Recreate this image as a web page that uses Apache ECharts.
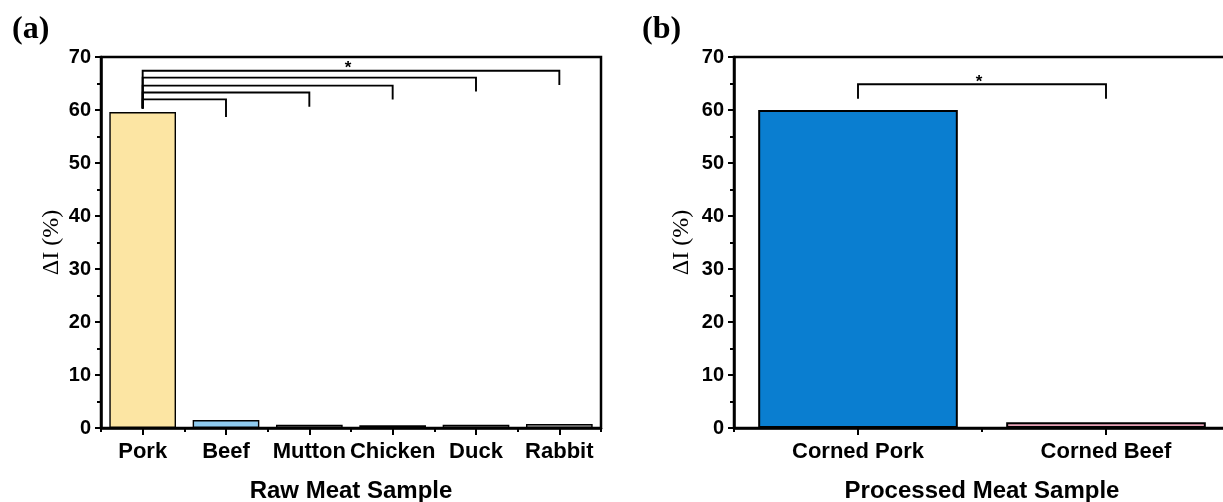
<!DOCTYPE html>
<html>
<head>
<meta charset="utf-8">
<title>ΔI of raw and processed meat samples</title>
<script src="https://cdn.jsdelivr.net/npm/echarts@6.0.0/dist/echarts.min.js"></script>
<style>
  html, body { margin: 0; padding: 0; background: #fff; }
  #chart { width: 1223px; height: 502px; }
</style>
</head>
<body>
<div id="chart"></div>
<script>
// ---- data ----
const rawCategories = ['Pork', 'Beef', 'Mutton', 'Chicken', 'Duck', 'Rabbit'];
const rawValues = [59.6, 1.5, 0.6, 0.5, 0.6, 0.75];
const rawColors = ['#FCE5A3', '#8ECBF0', '#E6E6E6', '#3A3A3A', '#ECECEC', '#C6C6C6'];

const processedCategories = ['Corned Pork', 'Corned Beef'];
const processedValues = [60.0, 1.1];
const processedColors = ['#0A7ED0', '#E9A3B8'];

const yTicks = [0, 70, 10]; // min, max, interval

// significance brackets: [fromIndex, toIndex, level, fromEnd, toEnd, mark]
const rawBrackets = [
  [0, 1, 62.0, 60.3, 58.7, ''],
  [0, 2, 63.3, 60.3, 60.6, ''],
  [0, 3, 64.6, 60.3, 62.0, ''],
  [0, 4, 66.1, 60.3, 63.5, ''],
  [0, 5, 67.4, 60.3, 64.7, '*']
];
const processedBrackets = [
  [0, 1, 64.85, 62.1, 62.1, '*']
];

// ---- styles ----
const BLACK = '#000';
const SANS = 'Liberation Sans, Arial, sans-serif';
const SERIF = 'Liberation Serif, Times New Roman, serif';
const sansBold = { fontFamily: SANS, fontWeight: 'bold', color: BLACK };

function bracketRenderer(list) {
  return function (params, api) {
    const b = list[params.dataIndex];
    const p1 = api.coord([b[0], b[3]]);
    const p2 = api.coord([b[0], b[2]]);
    const p3 = api.coord([b[1], b[2]]);
    const p4 = api.coord([b[1], b[4]]);
    const children = [{
      type: 'polyline',
      shape: { points: [p1, p2, p3, p4] },
      style: { stroke: BLACK, lineWidth: 1.9, fill: null }
    }];
    if (b[5]) {
      children.push({
        type: 'text',
        style: {
          text: b[5],
          x: (p2[0] + p3[0]) / 2 - 3,
          y: p2[1] - 2,
          align: 'center',
          verticalAlign: 'middle',
          fontFamily: SANS,
          fontWeight: 'bold',
          fontSize: 17,
          fill: BLACK
        }
      });
    }
    return { type: 'group', children: children };
  };
}

function categoryAxis(gridIndex, data, name) {
  return {
    type: 'category', gridIndex: gridIndex, data: data, position: 'bottom',
    axisLine: { show: true, lineStyle: { color: BLACK, width: 2.5 } },
    axisTick: { show: true, alignWithLabel: true, inside: false, length: 7, lineStyle: { color: BLACK, width: 2 } },
    axisLabel: Object.assign({ fontSize: 22, margin: 13, interval: 0 }, sansBold),
    splitLine: { show: false },
    name: name, nameLocation: 'middle', nameGap: 51,
    nameTextStyle: Object.assign({ fontSize: 24 }, sansBold)
  };
}

// boundary ticks between categories
function boundaryAxis(gridIndex, count) {
  return {
    type: 'value', gridIndex: gridIndex, position: 'bottom',
    min: 0, max: count, interval: 1,
    axisLine: { show: false },
    axisTick: { show: true, inside: false, length: 4, lineStyle: { color: BLACK, width: 2 } },
    axisLabel: { show: false },
    splitLine: { show: false }
  };
}

function valueAxis(gridIndex, nameGap) {
  return {
    type: 'value', gridIndex: gridIndex, position: 'left',
    min: yTicks[0], max: yTicks[1], interval: yTicks[2],
    axisLine: { show: true, lineStyle: { color: BLACK, width: 2.5 } },
    axisTick: { show: true, inside: false, length: 6, lineStyle: { color: BLACK, width: 2 } },
    minorTick: { show: true, splitNumber: 2, length: 4, lineStyle: { color: BLACK, width: 2 } },
    axisLabel: Object.assign({ fontSize: 20, margin: 10 }, sansBold),
    splitLine: { show: false },
    name: 'ΔI (%)', nameLocation: 'middle', nameGap: nameGap,
    nameTextStyle: { fontFamily: SERIF, fontSize: 24, color: BLACK }
  };
}

const chart = echarts.init(document.getElementById('chart'), null, { renderer: 'canvas' });

chart.setOption({
  backgroundColor: '#fff',
  animation: false,
  title: [
    { text: '(a)', left: 7, top: 9, textStyle: { fontFamily: SERIF, fontWeight: 'bold', fontSize: 32, color: BLACK } },
    { text: '(b)', left: 637, top: 9, textStyle: { fontFamily: SERIF, fontWeight: 'bold', fontSize: 32, color: BLACK } }
  ],
  grid: [
    { left: 101, top: 57, width: 500, height: 371, show: true, borderColor: BLACK, borderWidth: 2.5, backgroundColor: 'transparent', outerBoundsMode: 'none' },
    { left: 734, top: 57, width: 496, height: 371, show: true, borderColor: BLACK, borderWidth: 2.5, backgroundColor: 'transparent', outerBoundsMode: 'none' }
  ],
  xAxis: [
    categoryAxis(0, rawCategories, 'Raw Meat Sample'),
    boundaryAxis(0, rawCategories.length),
    categoryAxis(1, processedCategories, 'Processed Meat Sample'),
    boundaryAxis(1, processedCategories.length)
  ],
  yAxis: [
    valueAxis(0, 37),
    valueAxis(1, 40)
  ],
  series: [
    {
      type: 'bar', xAxisIndex: 0, yAxisIndex: 0, barCategoryGap: '20%',
      data: rawValues.map((v, i) => ({ value: v, itemStyle: { color: rawColors[i] } })),
      itemStyle: { borderColor: BLACK, borderWidth: 1.4 }
    },
    {
      type: 'bar', xAxisIndex: 2, yAxisIndex: 1, barCategoryGap: '19.5%',
      data: processedValues.map((v, i) => ({ value: v, itemStyle: { color: processedColors[i] } })),
      itemStyle: { borderColor: BLACK, borderWidth: 2 }
    },
    {
      type: 'custom', xAxisIndex: 0, yAxisIndex: 0, clip: false,
      renderItem: bracketRenderer(rawBrackets),
      data: rawBrackets.map(b => [b[0], b[2]]),
      silent: true
    },
    {
      type: 'custom', xAxisIndex: 2, yAxisIndex: 1, clip: false,
      renderItem: bracketRenderer(processedBrackets),
      data: processedBrackets.map(b => [b[0], b[2]]),
      silent: true
    }
  ]
});
</script>
</body>
</html>
